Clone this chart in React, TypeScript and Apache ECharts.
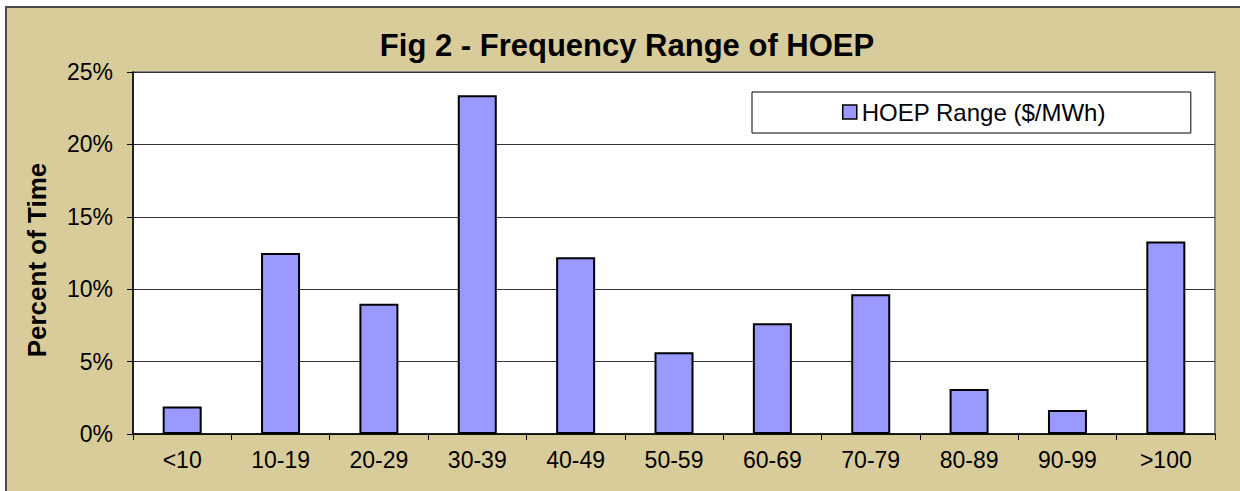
import React, { useEffect, useRef } from "react";
import * as echarts from "echarts";

const categories = ["<10", "10-19", "20-29", "30-39", "40-49", "50-59", "60-69", "70-79", "80-89", "90-99", ">100"];
const percentValues = [1.9, 12.5, 9.0, 23.4, 12.2, 5.65, 7.65, 9.65, 3.1, 1.65, 13.3];
const seriesName = "HOEP Range ($/MWh)";
const titleText = "Fig 2 - Frequency Range of HOEP";
const yAxisTitle = "Percent of Time";

export default function App() {
  const ref = useRef<HTMLDivElement>(null);
  useEffect(() => {
    if (!ref.current) return;
    const chart = echarts.init(ref.current, null, { renderer: "svg" });
    const font = "Liberation Sans, Arial, sans-serif";
    chart.setOption({
      animation: false,
      backgroundColor: "#ffffff",
      textStyle: { fontFamily: font },
      graphic: [
        {
          type: "rect",
          z: -10,
          shape: { x: 6, y: 7, width: 1260, height: 520 },
          style: { fill: "#D8CC9A", stroke: "#4a4a4a", lineWidth: 2 },
        },
        {
          type: "text",
          z: 10,
          x: 627,
          y: 45,
          style: {
            text: titleText,
            fontFamily: font,
            fontSize: 31,
            fontWeight: "bold",
            fill: "#000",
            align: "center",
            verticalAlign: "middle",
          },
        },
        {
          type: "text",
          z: 10,
          x: 37,
          y: 260,
          rotation: Math.PI / 2,
          style: {
            text: yAxisTitle,
            fontFamily: font,
            fontSize: 26,
            fontWeight: "bold",
            fill: "#000",
            align: "center",
            verticalAlign: "middle",
          },
        },
      ],
      legend: {
        left: 752,
        top: 92,
        orient: "horizontal",
        backgroundColor: "#ffffff",
        borderColor: "#000",
        borderWidth: 1,
        borderRadius: 0,
        padding: [8, 85, 9, 90],
        itemWidth: 14,
        itemHeight: 14,
        icon: "rect",
        textStyle: { fontSize: 24, color: "#000", fontFamily: font },
        data: [{ name: seriesName, itemStyle: { borderColor: "#000", borderWidth: 1.5 } }],
      },
      grid: {
        left: 133,
        top: 72,
        right: 25,
        bottom: 57,
        show: true,
        backgroundColor: "#ffffff",
        borderColor: "#888888",
        borderWidth: 2,
      },
      xAxis: {
        type: "category",
        data: categories,
        boundaryGap: true,
        axisLine: { show: true, lineStyle: { color: "#000", width: 1.5 } },
        axisTick: { show: true, interval: 0, length: 6, inside: false, lineStyle: { color: "#000" } },
        axisLabel: { interval: 0, fontSize: 23, color: "#000", margin: 14, fontFamily: font },
        splitLine: { show: false },
      },
      yAxis: {
        type: "value",
        min: 0,
        max: 25,
        interval: 5,
        axisLine: { show: true, lineStyle: { color: "#000", width: 1.5 } },
        axisTick: { show: true, length: 6, lineStyle: { color: "#000" } },
        axisLabel: { fontSize: 23, color: "#000", margin: 20, formatter: "{value}%", fontFamily: font },
        splitLine: { show: true, lineStyle: { color: "#333", width: 1 } },
      },
      series: [
        {
          name: seriesName,
          type: "bar",
          data: percentValues,
          barWidth: 39,
          itemStyle: { color: "#9999FF", borderColor: "#000", borderWidth: 2 },
        },
      ],
    });
    return () => chart.dispose();
  }, []);
  return <div ref={ref} style={{ position: "fixed", left: 0, top: 0, width: 1240, height: 491 }} />;
}
